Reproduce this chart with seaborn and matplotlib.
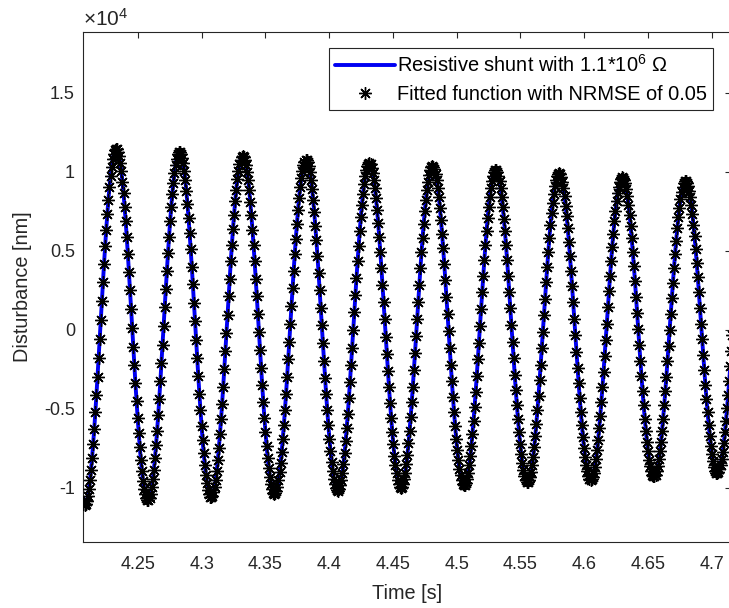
import numpy as np
import pandas as pd
import matplotlib
matplotlib.use("Agg")
import matplotlib.pyplot as plt
import seaborn as sns
from matplotlib.ticker import FixedLocator, FuncFormatter

# Extremes of the recorded oscillation (time in s, disturbance in nm)
trough_times = [4.2081, 4.2577, 4.3073, 4.3570, 4.4066, 4.4562, 4.5058,
                4.5554, 4.6051, 4.6547, 4.7043]
trough_vals = [-11100, -10800, -10600, -10400, -10200, -10000, -9850,
               -9650, -9500, -9300, -9100]
peak_times = [4.2329, 4.2825, 4.3321, 4.3818, 4.4314, 4.4810, 4.5306,
              4.5802, 4.6299, 4.6795, 4.7291]
peak_vals = [11450, 11250, 11000, 10750, 10550, 10350, 10100,
             9900, 9650, 9400, 9200]

# acquisition window and sample spacing
t_start, t_stop = 4.2072, 4.7165
sample_period = 0.00085

x_ticks = [4.25, 4.3, 4.35, 4.4, 4.45, 4.5, 4.55, 4.6, 4.65, 4.7]
y_ticks = [-10000, -5000, 0, 5000, 10000, 15000]

line_label = r"Resistive shunt with 1.1*10$^{6}$ $\Omega$"
fit_label = "Fitted function with NRMSE of 0.05"

# merge extremes into one ordered sequence
ext_t = np.array([v for pair in zip(trough_times, peak_times) for v in pair])
ext_v = np.array([v for pair in zip(trough_vals, peak_vals) for v in pair])

t = np.arange(t_start, t_stop, sample_period)
idx = np.clip(np.searchsorted(ext_t, t) - 1, 0, len(ext_t) - 2)
t0, t1 = ext_t[idx], ext_t[idx + 1]
v0, v1 = ext_v[idx], ext_v[idx + 1]
phase = np.pi * (t - t0) / (t1 - t0)
y = v0 + (v1 - v0) * (1 - np.cos(phase)) / 2

df = pd.DataFrame({"Time": t, "Disturbance": y})

sns.set_theme(style="white")
plt.rcParams["font.family"] = ["Liberation Sans", "DejaVu Sans"]
plt.rcParams["mathtext.fontset"] = "custom"
plt.rcParams["mathtext.rm"] = "Liberation Sans"
plt.rcParams["mathtext.it"] = "Liberation Sans:italic"

W, H = 729, 608
fig = plt.figure(figsize=(W / 100, H / 100), dpi=100)
left, right, top, bottom = 83.3, 730.5, 32.3, 541.7
ax = fig.add_axes([left / W, 1 - bottom / H, (right - left) / W, (bottom - top) / H])

gray = (0.15, 0.15, 0.15)

sns.lineplot(data=df, x="Time", y="Disturbance", ax=ax, color=(0.0, 0.0, 0.95),
             linewidth=2.8, label=line_label, sort=False, zorder=2)
sns.lineplot(data=df, x="Time", y="Disturbance", ax=ax, color="black",
             linestyle="", marker=(8, 2, 0), markersize=9, markeredgewidth=1.0,
             markeredgecolor="black", label=fit_label, sort=False, zorder=3)

ax.set_xlim(4.2071, 4.7148)
ax.set_ylim(-13420, 18820)
ax.xaxis.set_major_locator(FixedLocator(x_ticks))
ax.yaxis.set_major_locator(FixedLocator(y_ticks))
ax.xaxis.set_major_formatter(FuncFormatter(lambda v, p: f"{v:g}"))
ax.yaxis.set_major_formatter(FuncFormatter(lambda v, p: f"{v / 1e4:g}"))

ax.tick_params(axis="both", which="major", direction="in", length=4.5, width=0.8,
               colors=gray, labelsize=13, top=True, right=True)
ax.tick_params(axis="x", pad=10)
ax.tick_params(axis="y", pad=6)
for s in ax.spines.values():
    s.set_color(gray)
    s.set_linewidth(0.8)

ax.set_xlabel("Time [s]", fontsize=14.3, color=gray, labelpad=8)
ax.set_ylabel("Disturbance [nm]", fontsize=14.3, color=gray, labelpad=9)
ax.text(0.0, 1.005, r"$\times10^{4}$", transform=ax.transAxes, fontsize=15,
        color=gray, ha="left", va="bottom")

leg = ax.legend(loc="upper right", bbox_to_anchor=(0.973, 0.9692), borderaxespad=0,
                fontsize=14.4, frameon=True, fancybox=False, framealpha=1,
                edgecolor=gray, handlelength=3.0, handletextpad=0.1,
                borderpad=0.3, labelspacing=0.45)
leg.get_frame().set_linewidth(0.8)
for txt in leg.get_texts():
    txt.set_color("black")

fig.savefig("out.png", dpi=100)
